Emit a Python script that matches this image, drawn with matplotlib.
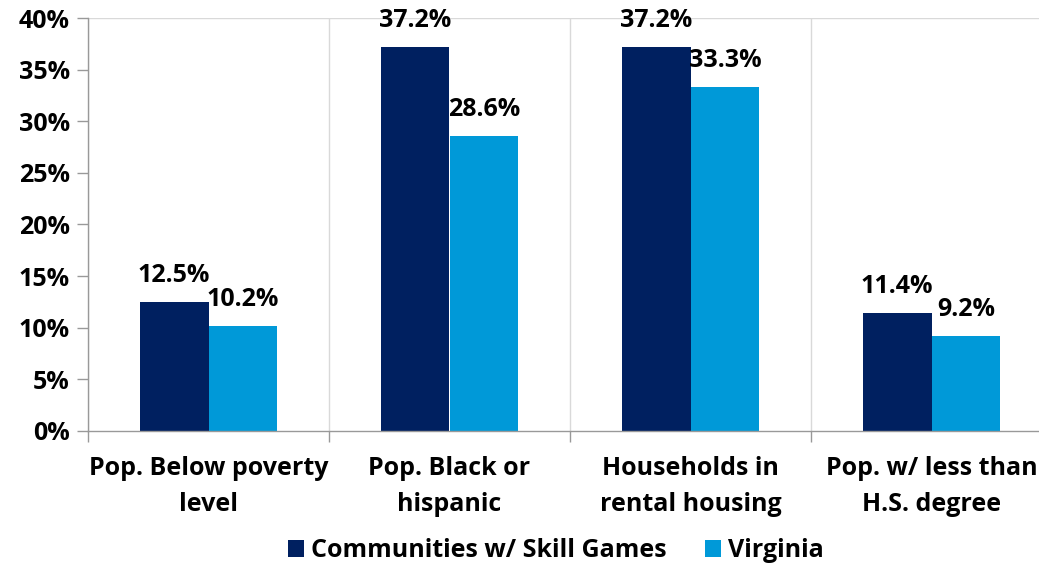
import numpy as np
import matplotlib.pyplot as plt

plt.rcParams['font.family'] = ['Open Sans', 'DejaVu Sans']
plt.rcParams['font.weight'] = 'bold'

categories = ["Pop. Below poverty\nlevel", "Pop. Black or\nhispanic",
              "Households in\nrental housing", "Pop. w/ less than\nH.S. degree"]
skill_games = [12.5, 37.2, 37.2, 11.4]
virginia = [10.2, 28.6, 33.3, 9.2]
series_names = ["Communities w/ Skill Games", "Virginia"]

DARK = "#002060"
LIGHT = "#0099D8"
FS = 18

fig = plt.figure(figsize=(10.39, 5.65), dpi=100)
ax = fig.add_axes([88 / 1039, 1 - 431 / 565, 964 / 1039, 413 / 565])

x = np.arange(len(categories))
w = 0.286
b1 = ax.bar(x - w / 2, skill_games, w, color=DARK, label=series_names[0])
b2 = ax.bar(x + w / 2, virginia, w, color=LIGHT, label=series_names[1])

for bars, vals in ((b1, skill_games), (b2, virginia)):
    for r, v in zip(bars, vals):
        ax.annotate(f"{v:.1f}%", (r.get_x() + r.get_width() / 2, v),
                    xytext=(0, 10), textcoords="offset points",
                    ha="center", va="bottom", fontsize=FS, fontweight="bold",
                    annotation_clip=False)

ax.set_xlim(-0.5, len(categories) - 0.5)
ax.set_ylim(0, 40)
ax.set_yticks(np.arange(0, 41, 5))
ax.set_yticklabels([f"{t}%" for t in range(0, 41, 5)], fontsize=FS, fontweight="bold")

# category boundaries: grid lines + tick marks
ax.set_xticks(np.arange(-0.5, len(categories), 1.0))
ax.set_xticklabels([])
ax.set_xticks(x, minor=True)
ax.set_xticklabels(categories, minor=True, fontsize=FS, fontweight="bold", linespacing=1.6)
ax.tick_params(axis="x", which="minor", length=0, pad=18)
ax.tick_params(axis="x", which="major", length=8, color="#999999", width=1)
ax.tick_params(axis="y", length=8, color="#999999", width=1, pad=5)

ax.grid(axis="x", which="major", color="#d9d9d9", linewidth=1)
ax.set_axisbelow(True)
ax.axhline(40, color="#d9d9d9", linewidth=1, zorder=0)

for s in ("top", "right"):
    ax.spines[s].set_visible(False)
for s in ("left", "bottom"):
    ax.spines[s].set_color("#999999")
    ax.spines[s].set_linewidth(1)

fig.legend(loc="lower center", bbox_to_anchor=(0.535, -0.037), ncol=2, frameon=False,
           handlelength=0.65, handleheight=0.65, handletextpad=0.3,
           columnspacing=1.5, prop={"weight": "bold", "size": FS})

fig.savefig("out.png", dpi=100)
